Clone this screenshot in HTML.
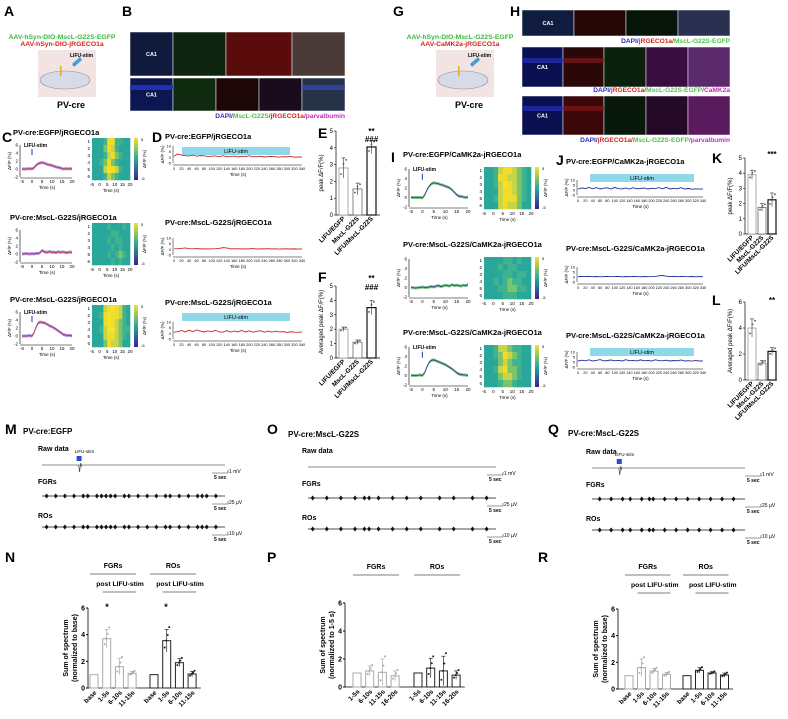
<!DOCTYPE html>
<html><head><meta charset="utf-8">
<style>
html,body{margin:0;padding:0;background:#fff;width:788px;height:719px;overflow:hidden}
svg{display:block;font-family:"Liberation Sans",sans-serif}
.pl{font-weight:bold;font-size:14px}
.tt{font-weight:bold;font-size:7.5px}
</style></head><body>
<svg id="fig" width="788" height="719" viewBox="0 0 788 719">
<defs>
<linearGradient id="cb" x1="0" y1="0" x2="0" y2="1"><stop offset="0" stop-color="#f5e12a"/><stop offset="0.5" stop-color="#2aa898"/><stop offset="1" stop-color="#3a1f8f"/></linearGradient>
</defs>
</svg>
<script>
// ---------- data ----------
const eCats=["LIFU/EGFP","MscL-G22S","LIFU/MscL-G22S"];
const eVals=[2.8,1.55,4.05];
const eErr=[0.6,0.35,0.4];
const fVals=[2.0,1.1,3.5];
const fErr=[0.15,0.15,0.5];
const kVals=[3.9,1.75,2.25];
const kErr=[0.3,0.25,0.45];
const lVals=[4.0,1.3,2.2];
const lErr=[0.7,0.2,0.3];
const nCats=["base","1-5s","6-10s","11-15s"];
const nFGR=[1.0,3.7,1.6,1.1];
const nFGRerr=[0,0.7,0.6,0.15];
const nRO=[1.0,3.55,1.9,1.05];
const nROerr=[0,0.85,0.3,0.2];
const pCats=["1-5s","6-10s","11-15s","16-20s"];
const pFGR=[1.0,1.15,1.05,0.8];
const pFGRerr=[0,0.35,0.95,0.35];
const pRO=[1.0,1.35,1.15,0.85];
const pROerr=[0,0.7,1.05,0.3];
const rFGR=[1.0,1.6,1.35,1.1];
const rFGRerr=[0,0.65,0.2,0.15];
const rRO=[1.0,1.4,1.2,1.05];
const rROerr=[0,0.2,0.1,0.15];
const traceT=[-5,-3,-1,0,1,2,3,4,5,6,7,8,9,10,11,12,13,14,15,16,17,18,19,20];
const cResp1=[0,0,0.1,0,0.3,0.9,1.3,1.5,1.6,1.5,1.3,1.1,1.0,0.9,0.7,0.5,0.4,0.3,0.1,0,0.1,0,0.1,0];
const cResp2=[0,0.1,0,0.1,0,0.2,0.1,0.3,0.9,0.6,0.4,0.5,0.6,0.4,0.5,0.3,0.6,0.4,0.5,0.5,0.3,0.4,0.5,0.4];
const cResp3=[0,0,0.1,0,0.8,2.2,3.2,3.5,3.4,3.3,3.1,2.8,2.5,2.3,2.0,1.7,1.3,1.0,0.6,0.3,0.2,0.1,0.2,0];
const iResp1=[0,0,0,-0.1,0.5,1.6,2.4,2.9,3.1,3.0,2.9,2.7,2.6,2.4,2.2,2.0,1.6,1.1,0.6,0.3,0.2,0.1,0,0.1];
const iResp2=[0,-0.1,0,0.1,0,0,0.1,0.2,0.1,0.3,0.4,0.2,0.3,0.5,0.4,0.3,0.6,0.4,0.5,0.4,0.3,0.5,0.4,0.6];
const iResp3=[0,0,0.1,0,0.6,1.8,2.8,3.2,3.3,3.1,2.9,2.7,2.5,2.3,2.0,1.7,1.4,1.0,0.6,0.3,0.2,0.1,0.1,0];
const heat1=[[0,0,0,1,4,4,1,1,0,0],[0,0,0,2,4,3,1,0,0,0],[0,0,0,1,3,4,2,1,0,0],[0,0,1,2,4,2,1,0,0,0],[0,0,0,3,5,4,3,1,0,0],[0,0,0,1,3,2,1,0,0,0]];
const heat2=[[0,0,0,0,1,0,0,0,1,0],[0,0,0,0,0,1,1,0,0,0],[0,0,0,0,1,0,1,1,0,0],[0,0,0,0,0,1,0,1,0,0],[0,0,0,0,1,0,1,2,1,0],[0,0,0,0,0,1,0,1,0,0]];
const heat3=[[0,0,0,3,4,5,4,3,1,0],[0,0,1,4,5,4,4,3,1,0],[0,0,0,4,5,4,3,2,1,0],[0,0,1,3,5,5,3,2,1,1],[0,0,0,3,4,4,3,2,1,0],[0,0,0,2,4,3,3,2,0,0]];
const heat4=[[0,0,1,3,4,4,3,2,1,0],[0,0,1,4,4,3,3,2,1,0],[0,0,1,3,5,4,3,2,1,0],[0,0,0,3,4,4,3,2,1,0],[0,0,1,3,4,4,4,2,1,0],[0,0,0,3,4,3,3,2,0,0]];
const heat5=[[0,0,0,0,1,1,0,1,0,0],[0,0,0,1,0,1,1,0,0,0],[0,0,0,0,1,1,0,1,1,0],[0,0,1,0,1,2,1,1,0,0],[0,0,0,1,1,2,2,1,1,0],[0,0,0,0,1,1,1,0,0,0]];
const heat6=[[0,0,1,3,3,2,1,1,0,0],[0,0,1,2,4,3,2,1,0,0],[0,0,0,2,3,2,1,1,0,0],[0,0,1,3,4,2,2,1,0,0],[0,0,0,2,3,3,2,1,0,0],[0,0,0,1,2,2,1,0,0,0]];
const longA=[1,3,2,1.5,1.2,2,1,1.5,1.3,0.8,1,1.2,0.5,1.4,0.6,0.8,1.1,0.4,0.9,0.7,1.3,0.5,0.6,0.9,0.3,0.7,0.8,0.5,0.2,0.6,0.4,0.8,0.1,0.3,0.2];
const longB=[0.5,0.6,0.8,1.2,0.6,0.5,0.7,0.4,0.5,0.3,0.5,0.6,0.8,1.5,1.2,0.4,0.5,0.6,0.3,0.5,0.4,0.7,0.3,0.5,0.4,0.6,0.3,0.5,0.2,0.4,0.5,0.3,0.4,0.2,0.3];
const longC=[1,1.5,2.5,1.2,2.8,1.5,3,2,1.2,2.2,1.5,2.6,1.3,1,2.4,1.1,2,1.3,2.5,1.2,2.2,1,1.8,2.3,1,2,1.1,1.9,1.2,1.5,0.8,1.4,1,0.9,1.2];
const longD=[1,2,1.5,2.5,1.2,2.4,1,1.8,2.2,1,2.6,1.3,1.1,2,1,2.3,1.2,1.5,2.1,1,1.8,1.3,2.4,1.2,2.6,1,1.7,1.2,2.3,1,1.5,0.8,1.2,0.9,1.1];
const longE=[0.3,0.5,0.4,0.6,0.3,0.5,0.2,0.4,0.6,0.3,0.4,0.5,0.2,0.5,0.3,0.6,0.4,0.2,0.5,0.3,0.4,0.6,1.2,1.5,0.8,0.4,0.5,0.3,0.6,0.4,0.3,0.5,0.2,0.4,0.3];
const longF=[1,1.8,1.2,2.2,1,1.6,2.4,1.1,1.5,2,1.2,1.7,1,2.3,1.3,1.6,1.1,2.1,1.2,1.6,1,2.2,1.4,1.2,1.8,1,1.5,1.2,2,1,1.3,0.9,1.4,1,1.1];
const mSpikes=[1,3,5,7,9,10,12,13,14,15,16,18,19,21,23,25,27,28,30,32,34,35,36,38];
const oSpikes=[1,4,7,10,12,13,15,18,21,24,28,31,35,38];
const qSpikes=[2,5,8,10,13,15,16,19,22,25,28,31,34,37];

// ---------- helpers ----------
const svg=document.getElementById('fig');
const NS='http://www.w3.org/2000/svg';
function mk(tag,attrs,parent){const e=document.createElementNS(NS,tag);for(const k in attrs)e.setAttribute(k,attrs[k]);(parent||svg).appendChild(e);return e;}
function tx(x,y,s,attrs,parent){const e=mk('text',Object.assign({x:x,y:y},attrs||{}),parent);e.textContent=s;return e;}
function lin(d0,d1,r0,r1){return v=>r0+(v-d0)*(r1-r0)/(d1-d0);}
function grp(name){const g=mk('g',{});return g;}

[["A",4,16],["B",122,16],["G",393,16],["H",510,16],["C",2,142],["D",152,142],["E",318,138],["F",318,282],["I",391,162],["J",556,165],["K",712,163],["L",712,305],["M",5,434],["O",267,434],["Q",548,434],["N",5,562],["P",267,562],["R",538,562]].forEach(p=>{
  const t=tx(p[1],p[2],p[0],{class:'pl'});
  
  
});

function schematic(cx,lines,name){
  const g=grp(name);
  tx(cx,39,lines[0],{'font-size':'6.8px','font-weight':'bold',fill:'#3cb93c','text-anchor':'middle'},g);
  tx(cx,46,lines[1],{'font-size':'6.8px','font-weight':'bold',fill:'#d4241e','text-anchor':'middle'},g);
  mk('rect',{x:cx-24,y:50,width:58,height:47,fill:'#f3e4e4'},g);
  mk('ellipse',{cx:cx+3,cy:80,rx:25,ry:9,fill:'#d7dbe6',stroke:'#8a8fa5','stroke-width':0.6},g);
  mk('path',{d:`M${cx+10} 64 l8 -7 l2 3 l-8 7 z`,fill:'#4a9bd4'},g);
  mk('rect',{x:cx-2,y:66,width:1.5,height:10,fill:'#e0b020'},g);
  tx(cx+8,57,'LIFU-stim',{'font-size':'5px','font-weight':'bold'},g);
  tx(cx+9,108,'PV-cre',{'font-size':'9px','font-weight':'bold','text-anchor':'middle'},g);
}
schematic(62,["AAV-hSyn-DIO-MscL-G22S-EGFP","AAV-hSyn-DIO-jRGECO1a"],'schematic-a');
schematic(460,["AAV-hSyn-DIO-MscL-G22S-EGFP","AAV-CaMK2a-jRGECO1a"],'schematic-g');

function tiles(list,name){
  const g=grp(name);
  list.forEach(t=>{mk('rect',{x:t[0],y:t[1],width:t[2],height:t[3],fill:t[4],stroke:'#fff','stroke-width':0.5},g);
    if(t[5])tx(t[0]+t[2]/2,t[1]+t[3]/2+2,t[5],{'font-size':'5.5px','font-weight':'bold',fill:'#fff','text-anchor':'middle'},g);});
}
tiles([[130,32,43,44,'#0f1a3c','CA1'],[173,32,53,44,'#0d2410'],[226,32,66,44,'#5a0b0b'],[292,32,53,44,'#4a3a38'],
 [130,78,43,33,'#0c1650','CA1'],[173,78,43,33,'#0f2a0f'],[216,78,43,33,'#1c0606'],[259,78,43,33,'#1a0c1c'],[302,78,43,33,'#263248']],'images-b');
mk('rect',{x:130,y:85,width:43,height:5,fill:'#2a35c8',opacity:0.8});
mk('rect',{x:302,y:85,width:43,height:5,fill:'#3b48c0',opacity:0.7});
tiles([[522,10,52,26,'#0f1c40','CA1'],[574,10,52,26,'#240606'],[626,10,52,26,'#07140a'],[678,10,52,26,'#2a3050'],
 [522,47,41,40,'#0a1050','CA1'],[563,47,41,40,'#2a0808'],[604,47,42,40,'#0a200c'],[646,47,42,40,'#3a0e40'],[688,47,42,40,'#5a2a6a'],
 [522,96,41,39,'#0a1050','CA1'],[563,96,41,39,'#3a0808'],[604,96,42,39,'#08180a'],[646,96,42,39,'#250a28'],[688,96,42,39,'#5a1a5e']],'images-h');
[[522,58],[563,58],[522,106],[563,106]].forEach(p=>mk('rect',{x:p[0],y:p[1],width:41,height:5,fill:p[0]<560?'#2a35c8':'#8a1a1a',opacity:0.6}));
function caption(xr,y,parts,name){
  const t=mk('text',{x:xr,y:y,'font-size':'6.6px','font-weight':'bold','text-anchor':'end'});
  
  parts.forEach(p=>{const s=mk('tspan',{fill:p[1]},t);s.textContent=p[0];});
}
const bl='#2b2bb8',gr='#4cc24c',rd='#d4241e',pu='#c02cc0';
caption(345,118,[["DAPI/",bl],["MscL-G22S",gr],["/jRGECO1a/",rd],["parvalbumin",pu]],'caption-b');
caption(730,43,[["DAPI/",bl],["jRGECO1a/",rd],["MscL-G22S-EGFP",gr]],'caption-h1');
caption(730,92,[["DAPI/",bl],["jRGECO1a/",rd],["MscL-G22S-EGFP",gr],["/CaMK2a",pu]],'caption-h2');
caption(730,142,[["DAPI/",bl],["jRGECO1a/",rd],["MscL-G22S-EGFP",gr],["/parvalbumin",pu]],'caption-h3');

function respPlot(o){
  const g=grp(o.name);
  tx(o.tx,o.ty,o.title,{class:'tt'},g);
  const X=lin(-5,20,o.x0,o.x1), Y=lin(-2,6,o.yb,o.yt);
  mk('line',{x1:o.x0-2,y1:Y(-2),x2:o.x0-2,y2:Y(6),stroke:'#000','stroke-width':0.6},g);
  mk('line',{x1:o.x0-2,y1:Y(-2)+1,x2:o.x1,y2:Y(-2)+1,stroke:'#000','stroke-width':0.6},g);
  [-2,0,2,4,6].forEach(v=>tx(o.x0-4,Y(v)+1.5,String(v),{'font-size':'4.5px','text-anchor':'end'},g));
  [-5,0,5,10,15,20].forEach(v=>tx(X(v),Y(-2)+6,String(v),{'font-size':'4.5px','text-anchor':'middle'},g));
  tx((o.x0+o.x1)/2,Y(-2)+12,'Time (s)',{'font-size':'4.5px','text-anchor':'middle'},g);
  tx(o.x0-11,(Y(-2)+Y(6))/2,'ΔF/F (%)',{'font-size':'4.5px','text-anchor':'middle',transform:`rotate(-90 ${o.x0-11} ${(Y(-2)+Y(6))/2})`},g);
  const pts=traceT.map((t,i)=>X(t)+','+Y(o.data[i])).join(' ');
  const band=traceT.map((t,i)=>X(t)+','+(Y(o.data[i])-1.5)).join(' ')+' '+traceT.slice().reverse().map((t,j)=>{const i=traceT.length-1-j;return X(t)+','+(Y(o.data[i])+1.5);}).join(' ');
  mk('polygon',{points:band,fill:o.band,opacity:0.7},g);
  const pl=mk('polyline',{points:pts,fill:'none',stroke:o.col,'stroke-width':0.8},g);
  
  if(o.stim){tx(o.x0+2,Y(6)+2,'LIFU-stim',{'font-size':'5px','font-weight':'bold'},g);
    mk('rect',{x:X(0)-0.6,y:Y(5),width:1.2,height:6,fill:'#2a5fc0'},g);}
  const rows=o.heat.length, cols=o.heat[0].length;
  const cw=(o.hx1-o.hx0)/cols, ch=(o.hy1-o.hy0)/rows;
  const colr=v=>['#29a79a','#3fb38f','#7cc46a','#c6d44a','#f0dc2a','#f7e325'][Math.max(0,Math.min(5,v))];
  o.heat.forEach((r,ri)=>r.forEach((v,ci)=>mk('rect',{x:o.hx0+ci*cw,y:o.hy0+ri*ch,width:cw+0.3,height:ch+0.3,fill:colr(v)},g)));
  for(let i=0;i<rows;i++)tx(o.hx0-2,o.hy0+(i+0.5)*ch+1.5,String(i+1),{'font-size':'4.5px','text-anchor':'end'},g);
  [-5,0,5,10,15,20].forEach((v,i)=>tx(o.hx0+i*(o.hx1-o.hx0)/5,o.hy1+6,String(v),{'font-size':'4.5px','text-anchor':'middle'},g));
  tx((o.hx0+o.hx1)/2,o.hy1+12,'Time (s)',{'font-size':'4.5px','text-anchor':'middle'},g);
  mk('rect',{x:o.hx1+4,y:o.hy0,width:4,height:o.hy1-o.hy0,fill:'url(#cb)'},g);
  tx(o.hx1+11,o.hy0+3,'5',{'font-size':'4px'},g);tx(o.hx1+11,o.hy1,'-5',{'font-size':'4px'},g);
  tx(o.hx1+16,(o.hy0+o.hy1)/2,'ΔF/F (%)',{'font-size':'4.5px','text-anchor':'middle',transform:`rotate(-90 ${o.hx1+16} ${(o.hy0+o.hy1)/2})`},g);
}
const cT=["PV-cre:EGFP/jRGECO1a","PV-cre:MscL-G22S/jRGECO1a","PV-cre:MscL-G22S/jRGECO1a"];
[[cResp1,heat1,0,true],[cResp2,heat2,85,false],[cResp3,heat3,167,true]].forEach((r,i)=>respPlot({name:'panel-c-row'+(i+1),title:cT[i],tx:i==0?13:10,ty:135+r[2],x0:22,x1:72,yt:145+r[2],yb:177+r[2],data:r[0],heat:r[1],hx0:92,hx1:130,hy0:138+r[2],hy1:180+r[2],col:'#c0303a',band:'#8a5ad0',stim:r[3]}));
const iT=["PV-cre:EGFP/CaMK2a-jRGECO1a","PV-cre:MscL-G22S/CaMK2a-jRGECO1a","PV-cre:MscL-G22S/CaMK2a-jRGECO1a"];
[[iResp1,heat4,0,true],[iResp2,heat5,90,false],[iResp3,heat6,178,true]].forEach((r,i)=>respPlot({name:'panel-i-row'+(i+1),title:iT[i],tx:403,ty:157+r[2],x0:411,x1:468,yt:169+r[2],yb:207+r[2],data:r[0],heat:r[1],hx0:484,hx1:531,hy0:167+r[2],hy1:209+r[2],col:'#2a3a8a',band:'#4aa860',stim:r[3]}));

function longPlot(o){
  const g=grp(o.name);
  tx(o.tx,o.ty,o.title,{class:'tt'},g);
  if(o.bar){mk('rect',{x:o.bar[0],y:o.bar[1],width:o.bar[2],height:8,fill:'#8fd8ea'},g);
    tx(o.bar[0]+o.bar[2]/2,o.bar[1]+6,'LIFU-stim',{'font-size':'5.5px','text-anchor':'middle'},g);}
  const X=lin(0,340,o.x0,o.x1), Y=lin(-5,10,o.yb,o.yt);
  mk('line',{x1:o.x0-1,y1:o.yb,x2:o.x0-1,y2:o.yt,stroke:'#000','stroke-width':0.5},g);
  mk('line',{x1:o.x0-1,y1:o.yb+2,x2:o.x1,y2:o.yb+2,stroke:'#000','stroke-width':0.5},g);
  [-5,0,5,10].forEach(v=>tx(o.x0-3,Y(v)+1.5,String(v),{'font-size':'4px','text-anchor':'end'},g));
  for(let t=0;t<=340;t+=20)tx(X(t),o.yb+7,String(t),{'font-size':'3.8px','text-anchor':'middle'},g);
  tx((o.x0+o.x1)/2,o.yb+13,'Time (s)',{'font-size':'4.5px','text-anchor':'middle'},g);
  tx(o.x0-10,(o.yb+o.yt)/2,'ΔF/F (%)',{'font-size':'4.5px','text-anchor':'middle',transform:`rotate(-90 ${o.x0-10} ${(o.yb+o.yt)/2})`},g);
  const pts=o.data.map((v,i)=>X(i*10)+','+Y(v)).join(' ');
  const pl=mk('polyline',{points:pts,fill:'none',stroke:o.col,'stroke-width':0.9},g);
  
}
const dT=["PV-cre:EGFP/jRGECO1a","PV-cre:MscL-G22S/jRGECO1a","PV-cre:MscL-G22S/jRGECO1a"];
[[longA,0,0,true],[longB,92,86,false],[longC,176,166,true]].forEach((r,i)=>longPlot({name:'panel-d-row'+(i+1),title:dT[i],tx:165,ty:139+r[2],x0:174,x1:302,yt:146+r[1],yb:163+r[1],data:r[0],col:'#c62828',bar:r[3]?[182,(i==0?147:313),108]:null}));
[[longD,0,0,true],[longE,87,87,false],[longF,172,174,true]].forEach((r,i)=>longPlot({name:'panel-j-row'+(i+1),title:iT[i],tx:566,ty:164+r[2],x0:578,x1:703,yt:180+r[1],yb:195+r[1],data:r[0],col:'#1f2f9a',bar:r[3]?[590,(i==0?174:348),104]:null}));

function smallBars(o){
  const g=grp(o.name);
  const Y=lin(0,o.max,o.y0,o.yt);
  mk('line',{x1:o.x0,y1:o.y0,x2:o.x0,y2:o.yt,stroke:'#000','stroke-width':0.7},g);
  mk('line',{x1:o.x0,y1:o.y0,x2:o.x0+o.step*3+2,y2:o.y0,stroke:'#000','stroke-width':0.7},g);
  for(let v=0;v<=o.max;v+=o.tick){tx(o.x0-3,Y(v)+2,String(v),{'font-size':'6px','text-anchor':'end'},g);mk('line',{x1:o.x0-2,y1:Y(v),x2:o.x0,y2:Y(v),stroke:'#000','stroke-width':0.6},g);}
  o.vals.forEach((v,i)=>{
    const x=o.x0+3+i*o.step;
    const b=mk('rect',{x:x,y:Y(v),width:o.w,height:o.y0-Y(v),fill:'#fff',stroke:['#999','#666','#111'][i],'stroke-width':i==2?1.2:0.8},g);
    
    mk('line',{x1:x+o.w/2,y1:Y(v-o.err[i]),x2:x+o.w/2,y2:Y(v+o.err[i]),stroke:'#333','stroke-width':0.6},g);
    mk('line',{x1:x+o.w/2-2,y1:Y(v+o.err[i]),x2:x+o.w/2+2,y2:Y(v+o.err[i]),stroke:'#333','stroke-width':0.6},g);
    [-0.3,0.2,0.4].forEach((d,k)=>mk('circle',{cx:x+2+k*2.5,cy:Y(v+d*o.err[i]*2),r:0.9,fill:'#555'},g));
    if(o.labels){const lx=x+o.w/2+2,ly=o.y0+4;tx(lx,ly,eCats[i],{'font-size':'6.5px','font-weight':'bold','text-anchor':'end',transform:`rotate(-45 ${lx} ${ly})`},g);}
  });
  tx(o.x0-13,(o.y0+o.yt)/2,o.ylab,{'font-size':'6px','text-anchor':'middle',transform:`rotate(-90 ${o.x0-13} ${(o.y0+o.yt)/2})`},g);
  o.stars.forEach(s=>tx(o.x0+3+2*o.step+o.w/2,s[1],s[0],{'font-size':'8px','font-weight':'bold','text-anchor':'middle'},g));
}
smallBars({name:'chart-e',x0:336,y0:215,yt:131,max:5,tick:1,step:14,w:9,vals:eVals,err:eErr,labels:true,ylab:'peak ΔF/F(%)',stars:[['**',134],['###',142]]});
smallBars({name:'chart-f',x0:336,y0:358,yt:286,max:5,tick:1,step:14,w:9,vals:fVals,err:fErr,labels:true,ylab:'Averaged peak ΔF/F(%)',stars:[['**',281],['###',290]]});
smallBars({name:'chart-k',x0:745,y0:234,yt:158,max:5,tick:1,step:10,w:8,vals:kVals,err:kErr,labels:true,ylab:'peak ΔF/F(%)',stars:[['***',157]]});
smallBars({name:'chart-l',x0:745,y0:380,yt:302,max:6,tick:2,step:10,w:8,vals:lVals,err:lErr,labels:true,ylab:'Averaged peak ΔF/F(%)',stars:[['**',303]]});

function lfp(o){
  const g=grp(o.name);
  tx(o.tx,o.ty,o.title,{'font-size':'8px','font-weight':'bold'},g);
  tx(o.lx,o.ry-14,'Raw data',{'font-size':'7px','font-weight':'bold'},g);
  tx(o.lx,o.ry+19,'FGRs',{'font-size':'7px','font-weight':'bold'},g);
  tx(o.lx,o.ry+53,'ROs',{'font-size':'7px','font-weight':'bold'},g);
  const X=lin(0,40,o.x0,o.x1);
  mk('line',{x1:o.x0,y1:o.ry,x2:o.x1,y2:o.ry,stroke:'#666','stroke-width':0.7},g);
  if(o.stim!=null){
    tx(X(o.stim)-4,o.ry-12,'LIFU-stim',{'font-size':'4.5px'},g);
    mk('rect',{x:X(o.stim)-2,y:o.ry-9,width:5,height:5,fill:'#2c49d6'},g);
    mk('path',{d:`M${X(o.stim)} ${o.ry} l1 7 l1 -9 l1 4`,stroke:'#444',fill:'none','stroke-width':0.7},g);
  }
  [o.ry+31,o.ry+62].forEach(y=>{
    mk('line',{x1:o.x0,y1:y,x2:o.x1,y2:y,stroke:'#111','stroke-width':0.8},g);
    o.spikes.forEach(s=>{const sx=X(s);mk('path',{d:`M${sx-2} ${y} L${sx} ${y-2.5} L${sx+2} ${y} L${sx} ${y+2.5} Z`,fill:'#111'},g);});
  });
  [[o.ry+8,'1 mV'],[o.ry+39,'25 µV'],[o.ry+70,'10 µV']].forEach(r=>{
    mk('path',{d:`M${o.sx} ${r[0]} h16 v-3`,stroke:'#333',fill:'none','stroke-width':0.6},g);
    tx(o.sx+17,r[0],r[1],{'font-size':'5px'},g);
    tx(o.sx+2,r[0]+6,'5 sec',{'font-size':'5px','font-weight':'bold'},g);
  });
}
lfp({name:'panel-m',title:'PV-cre:EGFP',tx:23,ty:434,lx:38,ry:465,x0:42,x1:225,sx:212,stim:8,spikes:mSpikes});
lfp({name:'panel-o',title:'PV-cre:MscL-G22S',tx:288,ty:437,lx:302,ry:467,x0:308,x1:496,sx:487,stim:null,spikes:oSpikes});
lfp({name:'panel-q',title:'PV-cre:MscL-G22S',tx:568,ty:436,lx:586,ry:468,x0:592,x1:745,sx:745,stim:7,spikes:qSpikes});

function spec(o){
  const g=grp(o.name);
  const Y=lin(0,6,o.y0,o.yt);
  mk('line',{x1:o.x0,y1:o.y0,x2:o.x0,y2:o.yt,stroke:'#000','stroke-width':0.8},g);
  mk('line',{x1:o.x0,y1:o.y0,x2:o.g2+o.step*4,y2:o.y0,stroke:'#000','stroke-width':0.8},g);
  [0,2,4,6].forEach(v=>{tx(o.x0-3,Y(v)+2.5,String(v),{'font-size':'7px','font-weight':'bold','text-anchor':'end'},g);mk('line',{x1:o.x0-2,y1:Y(v),x2:o.x0,y2:Y(v),stroke:'#000'},g);});
  [[o.g1,o.v1,o.e1,'#aaa'],[o.g2,o.v2,o.e2,'#222']].forEach(gp=>{
    gp[1].forEach((v,i)=>{
      const x=gp[0]+i*o.step;
      const b=mk('rect',{x:x,y:Y(v),width:o.w,height:o.y0-Y(v),fill:'#fff',stroke:gp[3],'stroke-width':1},g);
      
      if(gp[2][i]>0){mk('line',{x1:x+o.w/2,y1:Y(v-gp[2][i]),x2:x+o.w/2,y2:Y(v+gp[2][i]),stroke:gp[3],'stroke-width':0.7},g);
        mk('line',{x1:x+o.w/2-2,y1:Y(v+gp[2][i]),x2:x+o.w/2+2,y2:Y(v+gp[2][i]),stroke:gp[3],'stroke-width':0.7},g);
        [-0.6,0,0.5,1.2].forEach((d,k)=>mk('circle',{cx:x+2+k*1.5,cy:Y(v+d*gp[2][i]),r:1,fill:gp[3]},g));}
      const lx=x+o.w/2+3,ly=o.y0+5;
      tx(lx,ly,o.cats[i],{'font-size':'6.5px','font-weight':'bold','text-anchor':'end',transform:`rotate(-45 ${lx} ${ly})`},g);
    });
  });
  const gw=o.step*3+o.w;
  [[o.g1,'FGRs'],[o.g2,'ROs']].forEach(h=>{tx(h[0]+gw/2,o.hy,h[1],{'font-size':'7px','font-weight':'bold','text-anchor':'middle'},g);
    mk('line',{x1:h[0],y1:o.hy+6,x2:h[0]+gw,y2:o.hy+6,stroke:'#555','stroke-width':0.8},g);
    if(o.post){tx(h[0]+gw/2+7,o.hy+18,'post LIFU-stim',{'font-size':'6.8px','font-weight':'bold','text-anchor':'middle'},g);
      mk('line',{x1:h[0]+o.step,y1:o.hy+24,x2:h[0]+gw,y2:o.hy+24,stroke:'#555','stroke-width':0.8},g);}
  });
  if(o.stars)o.stars.forEach(s=>tx(s,Y(6)+2,'*',{'font-size':'9px','font-weight':'bold','text-anchor':'middle'},g));
  const cy=(o.y0+o.yt)/2;
  tx(o.x0-20,cy,'Sum of spectrum',{'font-size':'7px','font-weight':'bold','text-anchor':'middle',transform:`rotate(-90 ${o.x0-20} ${cy})`},g);
  tx(o.x0-11,cy,o.ylab2,{'font-size':'7px','font-weight':'bold','text-anchor':'middle',transform:`rotate(-90 ${o.x0-11} ${cy})`},g);
}
spec({name:'chart-n',x0:88,y0:688,yt:608,g1:90,g2:150,step:12.7,w:8,cats:nCats,v1:nFGR,e1:nFGRerr,v2:nRO,e2:nROerr,hy:568,post:true,stars:[107,166],ylab2:'(normalized to base)'});
spec({name:'chart-p',x0:345,y0:687,yt:603,g1:353,g2:414,step:12.7,w:8,cats:pCats,v1:pFGR,e1:pFGRerr,v2:pRO,e2:pROerr,hy:569,post:false,ylab2:'(normalized to 1-5 s)'});
spec({name:'chart-r',x0:618,y0:689,yt:609,g1:625,g2:683,step:12.5,w:8,cats:nCats,v1:rFGR,e1:rFGRerr,v2:rRO,e2:rROerr,hy:569,post:true,ylab2:'(normalized to base)'});
</script>
</body></html>
